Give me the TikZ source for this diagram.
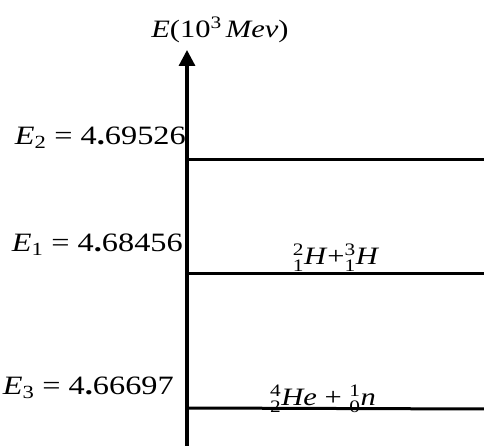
\documentclass[tikz,border=0pt]{standalone}
\usepackage{amsmath}
\usepackage{fontspec}
\setmainfont{Liberation Serif}
\newfontfamily\lvlfont[FakeStretch=1.22]{Liberation Serif}
\usetikzlibrary{arrows.meta, positioning}

\newcommand\nuc[3]{\ensuremath{{}^{\text{#1}}_{\text{#2}}}\textit{#3}}

\begin{document}
\begin{tikzpicture}[x=1pt, y=1pt,
      lbl/.style={font=\lvlfont\fontsize{26.5}{32}\selectfont, inner sep=0pt},
      rct/.style={font=\lvlfont\fontsize{25}{30}\selectfont, inner sep=0pt},
      axis/.style={line width=3.2pt, -{Triangle[length=16pt, width=16pt]}},
      lvl/.style={line width=3pt},
    ]
      \useasboundingbox (0,0) rectangle (484,446);

      % energy axis
      \coordinate (o)   at (187,0);
      \coordinate (top) at (187,396);
      \draw[axis] (o) -- (top);
      \node[rct, anchor=base] (ttl) at (220,408) {\textit{E}(10\textsuperscript{3}\,\textit{Mev})};

      % levels
      \coordinate (a2) at (187,286);  \coordinate (b2) at (484,286);
      \coordinate (a1) at (187,172);  \coordinate (b1) at (484,172);
      \coordinate (a3) at (187,38);   \coordinate (b3) at (484,37);
      \draw[lvl] (a2) -- (b2);
      \draw[lvl] (a1) -- (b1);
      \draw[lvl] (a3) -- (b3);

      \node[lbl, anchor=base east] (e2) at (186,301) {\textit{E}\textsubscript{2} = 4\textbf{.}69526};
      \node[lbl, anchor=base east] (e1) at (183,194) {\textit{E}\textsubscript{1} = 4\textbf{.}68456};
      \node[lbl, anchor=base east] (e3) at (174,51)  {\textit{E}\textsubscript{3} = 4\textbf{.}66697};

      \node[rct, anchor=base] (r1) at (336,181) {\nuc{2}{1}{H}+\nuc{3}{1}{H}};
      \node[rct, anchor=base] (r3) at (323,40)  {\nuc{4}{2}{He} + \nuc{1}{0}{n}};
    \end{tikzpicture}
\end{document}
